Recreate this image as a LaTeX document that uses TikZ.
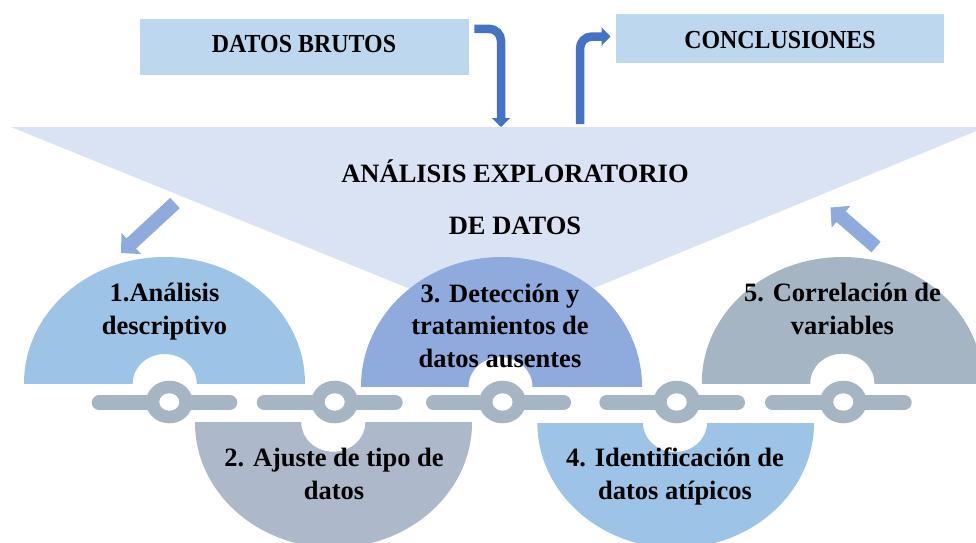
\documentclass[tikz,border=0pt]{standalone}
\usepackage{fontspec}
\usepackage{graphicx}
\setmainfont{Liberation Serif}
\usetikzlibrary{arrows.meta,calc}
\definecolor{tri}{HTML}{DAE3F3}
\definecolor{boxc}{HTML}{BDD7EE}
\definecolor{lblue}{HTML}{9DC3E6}
\definecolor{mblue}{HTML}{8FAADC}
\definecolor{gblue}{HTML}{ADB9CA}
\definecolor{slate}{HTML}{A5B5C4}
\definecolor{arrowblue}{HTML}{4472C4}
\begin{document}
\begin{tikzpicture}[x=1pt,y=-1pt,
  lbl/.style={font=\fontsize{26.5}{32.5}\selectfont\bfseries, align=center, inner sep=0pt, anchor=base},
  boxtxt/.style={font=\fontsize{26}{30}\selectfont\bfseries, inner sep=0pt, anchor=base},
  topbox/.style={fill=boxc, inner sep=0pt},
  bentarrow/.style={draw=arrowblue, line width=8.5pt, rounded corners=12pt, -{Triangle[width=18pt,length=9pt]}},
  blockarrow/.style={draw=mblue, line width=14pt, -{Triangle[width=28pt,length=14pt]}},
  chainbar/.style={draw=slate, line width=15pt, line cap=round}]
\useasboundingbox (0,0) rectangle (976,542);
\clip (0,0) rectangle (976,542);

% funnel
\coordinate (tl) at (11,127);
\coordinate (tr) at (986,127);
\coordinate (apex) at (501.5,326);
\fill[tri] (tl) -- (tr) -- (apex) -- cycle;
\node[lbl, font=\fontsize{26.5}{51.5}\selectfont\bfseries] (eda) at (515,234) {ANÁLISIS EXPLORATORIO\\DE DATOS};

% top boxes
\node[topbox, minimum width=329pt, minimum height=56pt] (bruto) at (304.5,47) {};
\node[boxtxt] (brutot) at (304,52.7) {\scalebox{0.92}[1]{DATOS BRUTOS}};
\node[topbox, minimum width=328pt, minimum height=49pt] (concl) at (780,38.5) {};
\node[boxtxt] (conclt) at (780,48.3) {\scalebox{0.92}[1]{CONCLUSIONES}};

% bent arrows
\coordinate (brutoout) at (474.3,28.8);
\coordinate (funnelin) at (501,127);
\coordinate (funnelout) at (580,124);
\coordinate (conclin) at (610.5,36.5);
\draw[bentarrow] (brutoout) -| (funnelin);
\draw[bentarrow] (funnelout) |- (conclin);

% small block arrows
\coordinate (la1) at (175,203);
\coordinate (la2) at (121,253);
\coordinate (ra1) at (876,247);
\coordinate (ra2) at (830.5,207.5);
\draw[blockarrow] (la1) -- (la2);
\draw[blockarrow] (ra1) -- (ra2);

% half discs (top)
\begin{scope}
\clip (20,383.3) rectangle (310,250);
\fill[lblue, even odd rule] (164.5,383.3) ellipse[x radius=140.5, y radius=126.3] (164.7,383.3) ellipse[x radius=32, y radius=29.3];
\end{scope}
\begin{scope}
\clip (355,386.5) rectangle (648,250);
\fill[mblue, even odd rule] (501.5,386.5) ellipse[x radius=140.5, y radius=129.5] (500.5,386.5) ellipse[x radius=32, y radius=29.3];
\end{scope}
\begin{scope}
\clip (698,383) rectangle (990,250);
\fill[slate, even odd rule] (842.3,383) ellipse[x radius=140.5, y radius=126] (842.3,383) ellipse[x radius=32, y radius=29.3];
\end{scope}
% half discs (bottom)
\begin{scope}
\clip (190,422.7) rectangle (478,560);
\fill[gblue, even odd rule] (333.5,422.7) ellipse[x radius=138.5, y radius=125] (333.3,422.7) ellipse[x radius=32, y radius=29];
\end{scope}
\begin{scope}
\clip (532,423) rectangle (820,560);
\fill[lblue, even odd rule] (675.7,423) ellipse[x radius=138.3, y radius=125] (675,423) ellipse[x radius=32, y radius=29];
\end{scope}

% chain
\draw[chainbar] (99.2,402.5) -- (229.8,402.5);
\draw[chainbar] (264.2,402.5) -- (395.2,402.5);
\draw[chainbar] (433.5,402.5) -- (563.5,402.5);
\draw[chainbar] (606.8,402.5) -- (737.5,402.5);
\draw[chainbar] (772.5,402.5) -- (904.2,402.5);
\foreach \cx in {169.3,334.7,502.5,676.7,843.3}{
  \fill[slate] (\cx,402) ellipse[x radius=23.3, y radius=21.3];
  \fill[white] (\cx,402) ellipse[x radius=10, y radius=8.7];
}

% labels
\node[lbl] (d1) at (164.5,334) {1.Análisis\\descriptivo};
\node[lbl] (d3) at (500,367) {3. Detección y\\tratamientos de\\datos ausentes};
\node[lbl] (d5) at (842.5,334) {5. Correlación de\\variables};
\node[lbl] (d2) at (334,499) {2. Ajuste de tipo de\\datos};
\node[lbl] (d4) at (675,499) {4. Identificación de\\datos atípicos};
\end{tikzpicture}
\end{document}
